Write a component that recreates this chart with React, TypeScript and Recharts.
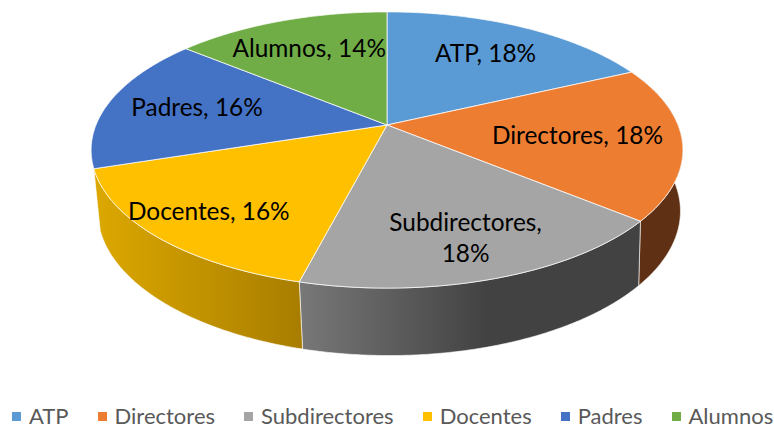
import { Legend, Pie, PieChart } from 'recharts';

const categories = ['ATP', 'Directores', 'Subdirectores', 'Docentes', 'Padres', 'Alumnos'];
const shares = [18, 18, 18, 16, 16, 14];
const topColors = ['#5B9BD5', '#ED7D31', '#A5A5A5', '#FFC000', '#4472C4', '#70AD47'];
const wallIds = ['wall-atp', 'wall-directores', 'wall-subdirectores', 'wall-docentes', 'wall-padres', 'wall-alumnos'];

const rows = categories.map((name, i) => ({
  name,
  value: shares[i],
  fill: topColors[i],
  wall: `url(#${wallIds[i]})`,
}));
const wallRows = rows.map((r) => ({ ...r, fill: r.wall }));

// the disc is seen in perspective, so a plain ellipse does not fit
const PERSPECTIVE = 0.181;
const SQUASH = 0.459;
const labelReach = [0.7, 0.65, 0.76, 0.8, 0.68, 0.7];

function project(cx: number, cy: number, R: number, angle: number, reach = 1) {
  const t = ((90 - angle) * Math.PI) / 180;
  const x = reach * Math.sin(t);
  const y = -reach * Math.cos(t);
  const w = 1 - PERSPECTIVE * y;
  return { x: cx + (R * x) / w, y: cy + (R * SQUASH * y) / w };
}

function lower(cx: number, cy: number, R: number, angle: number) {
  const t = ((90 - angle) * Math.PI) / 180;
  const x = Math.sin(t);
  const y = -Math.cos(t);
  const w = 1 - PERSPECTIVE * y;
  return { x: cx + 2 + (R * 0.985 * x) / w, y: cy + 60 + (R * 0.48 * y) / w };
}

function arc(start: number, end: number, at: (a: number) => { x: number; y: number }) {
  const steps = Math.ceil(Math.abs(end - start) * 2);
  const pts = [];
  for (let i = 0; i <= steps; i++) {
    const p = at(start + ((end - start) * i) / steps);
    pts.push(`${p.x.toFixed(2)} ${p.y.toFixed(2)}`);
  }
  return pts;
}

function TopSlice(props: any) {
  const { cx, cy, outerRadius, startAngle, endAngle, fill } = props;
  const pts = arc(startAngle, endAngle, (a) => project(cx, cy, outerRadius, a));
  return (
    <path
      d={`M ${cx} ${cy} L ${pts.join(' L ')} Z`}
      fill={fill}
      stroke="#fff"
      strokeOpacity={0.75}
      strokeWidth={1}
      strokeLinejoin="round"
    />
  );
}

function WallSlice(props: any) {
  const { cx, cy, outerRadius, startAngle, endAngle, fill } = props;
  const mid = (startAngle + endAngle) / 2;
  // slices at the back never show their wall
  if (Math.sin((mid * Math.PI) / 180) > 0) return null;
  const upper = arc(startAngle, endAngle, (a) => project(cx, cy, outerRadius, a));
  const under = arc(endAngle, startAngle, (a) => lower(cx, cy, outerRadius, a));
  return (
    <path
      d={`M ${upper.join(' L ')} L ${under.join(' L ')} Z`}
      fill={fill}
      stroke="#fff"
      strokeOpacity={0.6}
      strokeWidth={1}
      strokeLinejoin="round"
    />
  );
}

function SliceLabel(props: any) {
  const { cx, cy, outerRadius, midAngle, index, name, value } = props;
  const p = project(cx, cy, outerRadius, midAngle, labelReach[index]);
  const common = {
    textAnchor: 'middle' as const,
    fontFamily: 'Lato',
    fontSize: 24.4,
    fill: '#000',
  };
  if (name === 'Subdirectores') {
    return (
      <text x={p.x} y={p.y} {...common}>
        <tspan x={p.x} dy={-5}>{`${name},`}</tspan>
        <tspan x={p.x} dy={31}>{`${value}%`}</tspan>
      </text>
    );
  }
  return (
    <text x={p.x} y={p.y + 8} {...common}>
      {`${name}, ${value}%`}
    </text>
  );
}

function LegendRow({ payload }: any) {
  const items = (payload ?? []).filter((item: any) => !String(item.color).startsWith('url'));
  return (
    <div style={{ display: 'flex', gap: 29, fontFamily: 'Lato', fontSize: 22, lineHeight: '24px', color: '#595959' }}>
      {items.map((item: any) => (
        <span key={item.value} style={{ display: 'flex', alignItems: 'center', whiteSpace: 'nowrap' }}>
          <span style={{ width: 9, height: 9, background: item.color, marginRight: 8, display: 'inline-block' }} />
          <span>{item.value}</span>
        </span>
      ))}
    </div>
  );
}

export default function App() {
  return (
    <div style={{ position: 'absolute', left: 0, top: 0, width: 774, height: 425 }}>
      <PieChart width={774} height={425} margin={{ top: 0, right: 0, bottom: 0, left: 0 }}>
        <defs>
          <linearGradient id="wall-atp"><stop offset="0" stopColor="#2f6ea6" /></linearGradient>
          <linearGradient id="wall-padres"><stop offset="0" stopColor="#2a4a85" /></linearGradient>
          <linearGradient id="wall-alumnos"><stop offset="0" stopColor="#47702c" /></linearGradient>
          <linearGradient id="wall-directores"><stop offset="0" stopColor="#5f3013" /></linearGradient>
          <linearGradient id="wall-subdirectores">
            <stop offset="0" stopColor="#787878" />
            <stop offset="0.55" stopColor="#424242" />
            <stop offset="1" stopColor="#424242" />
          </linearGradient>
          <linearGradient id="wall-docentes">
            <stop offset="0" stopColor="#dcA800" />
            <stop offset="1" stopColor="#a87d00" />
          </linearGradient>
        </defs>
        <Pie
          data={wallRows}
          dataKey="value"
          nameKey="name"
          cx={387}
          cy={125}
          outerRadius={291}
          startAngle={90}
          endAngle={-270}
          legendType="none"
          shape={WallSlice}
          isAnimationActive={false}
        />
        <Pie
          data={rows}
          dataKey="value"
          nameKey="name"
          cx={387}
          cy={125}
          outerRadius={291}
          startAngle={90}
          endAngle={-270}
          shape={TopSlice}
          label={SliceLabel}
          labelLine={false}
          isAnimationActive={false}
        />
        <Legend
          content={LegendRow}
          itemSorter={null}
          wrapperStyle={{ position: 'absolute', left: 12, top: 404, width: 762, height: 24, bottom: 'auto' }}
        />
      </PieChart>
    </div>
  );
}
